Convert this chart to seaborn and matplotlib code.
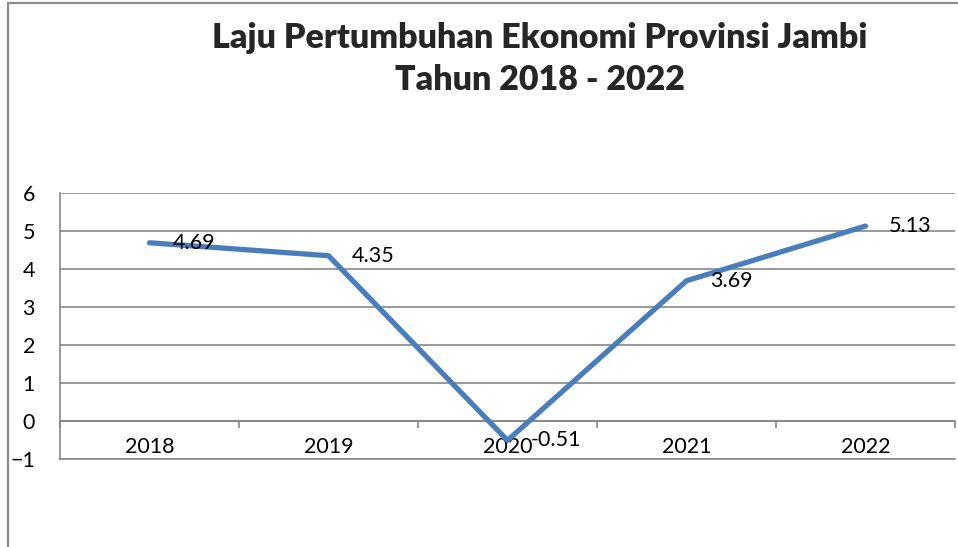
import matplotlib
matplotlib.use("Agg")
import matplotlib.pyplot as plt
import seaborn as sns
import pandas as pd
from matplotlib.patches import Rectangle

years = ["2018", "2019", "2020", "2021", "2022"]
growth = [4.69, 4.35, -0.51, 3.69, 5.13]
y_ticks = [-1, 0, 1, 2, 3, 4, 5, 6]
title_text = "Laju Pertumbuhan Ekonomi Provinsi Jambi\nTahun 2018 - 2022"

df = pd.DataFrame({"idx": list(range(len(years))), "year": years, "growth": growth})

sns.set_style("white")
plt.rcParams["font.family"] = ["Lato", "DejaVu Sans"]

W, H = 958, 547
fig = plt.figure(figsize=(W / 100, H / 100), dpi=100)
fig.patch.set_facecolor("white")

# chart area border (cropped at right/bottom)
fig.patches.append(Rectangle((8 / W, -0.1), 1.2, 1 - 3 / H + 0.1, transform=fig.transFigure,
                             fill=False, edgecolor="#8c8c8c", linewidth=1.6))

ax = fig.add_axes([60 / W, (H - 459) / H, (955 - 60) / W, (459 - 193) / H])
grid_c = "#878787"

sns.lineplot(data=df, x="idx", y="growth", ax=ax, color="#4A7EBB", linewidth=3.8,
             legend=False, solid_capstyle="round")

ax.set_xlim(-0.5, len(years) - 0.5)
ax.set_ylim(min(y_ticks), max(y_ticks))
ax.set_yticks(y_ticks)
ax.set_xticks(df["idx"])
ax.set_xticklabels(years)
ax.yaxis.grid(True, color=grid_c, linewidth=1.2)
ax.xaxis.grid(False)
ax.set_xlabel("")
ax.set_ylabel("")

for s in ["top", "right"]:
    ax.spines[s].set_visible(False)
for s in ["left", "bottom"]:
    ax.spines[s].set_color(grid_c)
    ax.spines[s].set_linewidth(1.2)

ax.tick_params(axis="y", length=6, width=1.2, color=grid_c, pad=12, labelsize=15.5, labelcolor="black")
ax.tick_params(axis="x", length=0, pad=-16, labelsize=15.5, labelcolor="black")

# axis crossing at zero with tick marks at category boundaries
sec = ax.secondary_xaxis((0 - min(y_ticks)) / (max(y_ticks) - min(y_ticks)))
sec.set_xticks([i - 0.5 for i in range(len(years) + 1)])
sec.set_xticklabels([])
sec.tick_params(length=5, width=1.2, color=grid_c, direction="out")
sec.spines["bottom"].set_color(grid_c)
sec.spines["bottom"].set_linewidth(1.2)

for i, v in enumerate(growth):
    ax.annotate(f"{v:.2f}", (i, v), xytext=(17, 0), textcoords="offset points",
                ha="left", va="center", fontsize=15.5, color="black")

fig.text(540 / W, 1 - 59 / H, title_text, ha="center", va="center", fontsize=24.5,
         fontweight="heavy", linespacing=1.4)

fig.savefig("out.png", dpi=100)
